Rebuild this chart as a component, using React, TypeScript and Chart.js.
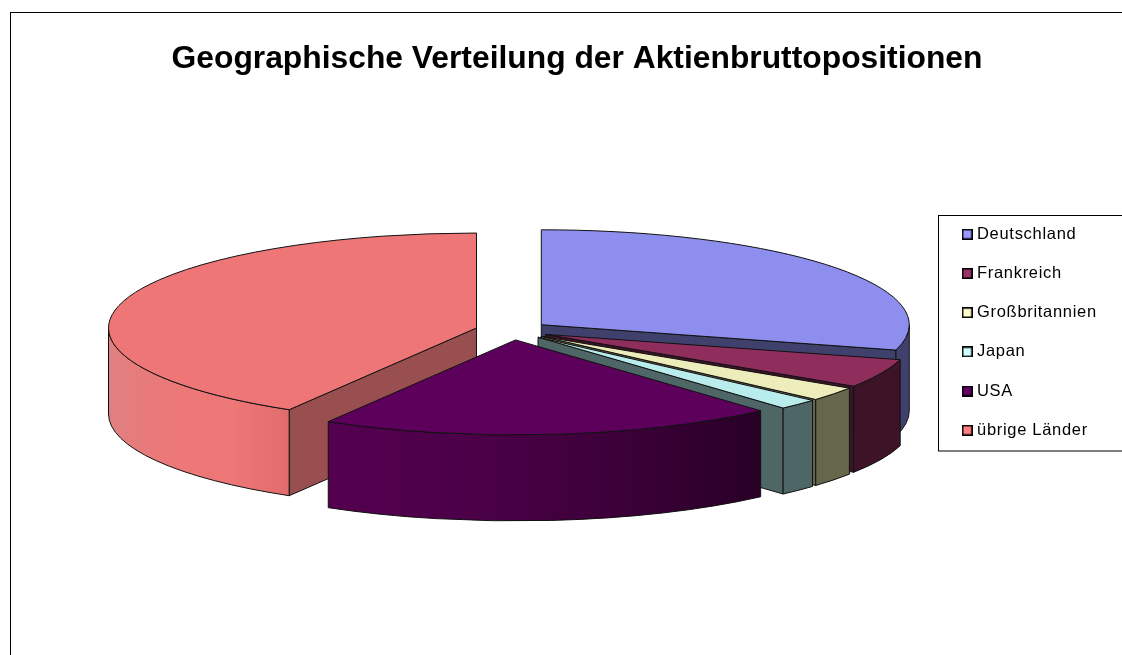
import React, { useEffect, useRef } from "react";
import { Chart, registerables } from "chart.js";

Chart.register(...registerables);

const TITLE = "Geographische Verteilung der Aktienbruttopositionen";
const categories = ["Deutschland", "Frankreich", "Großbritannien", "Japan", "USA", "übrige Länder"];
const shares = [29.3, 4.9, 2.4, 1.8, 20.1, 41.5];

const legendColors = ["#9999ff", "#993366", "#ffffcc", "#ccffff", "#660066", "#ff8080"];
const topColors = ["#8e8eee", "#8f2d5d", "#ecedba", "#b9eded", "#5c005c", "#ee7676"];
const faceColors = ["#40406c", "#3d1427", "#66664c", "#4f6666", "#2c002a", "#994f4f"];
const wallStops: string[][] = [
  ["#40406c", "#40406c"],
  ["#3d1427", "#3d1427"],
  ["#66664c", "#66664c"],
  ["#4f6666", "#4f6666"],
  ["#54004f", "#4b0048", "#3c0039", "#280026"],
  ["#e08080", "#ec7878", "#ee7777", "#e16c6c"],
];
const drawOrder = [5, 0, 1, 2, 3, 4];

const CANVAS_W = 1132;
const CANVAS_H = 642;
const TILT = 0.258;
const DEPTH = 86;
const EXPLODE = 36.8;

function legendSwatch(color: string) {
  const c = document.createElement("canvas");
  c.width = 11;
  c.height = 11;
  const g = c.getContext("2d")!;
  g.fillStyle = color;
  g.fillRect(1, 1, 9, 9);
  g.strokeStyle = "#000";
  g.lineWidth = 1.6;
  g.strokeRect(0.8, 0.8, 9.4, 9.4);
  return c;
}

const pie3d = {
  id: "pie3d",
  afterLayout(chart: any) {
    const title = chart.titleBlock;
    title.left = 0;
    title.right = CANVAS_W;
    const legend = chart.legend;
    legend.left = 932.05;
    legend.right = 1132;
    legend.top = 190.3;
    legend.bottom = 450;
    if (!legend.__spaced) {
      legend.__spaced = true;
      const orig = legend.draw;
      legend.draw = function (...a: any[]) {
        const ctx = chart.ctx;
        ctx.save();
        ctx.letterSpacing = "0.7px";
        orig.apply(this, a);
        ctx.restore();
      };
    }
  },
  beforeDatasetDraw(chart: any, args: any) {
    const ctx: CanvasRenderingContext2D = chart.ctx;
    const arcs = args.meta.data;
    ctx.save();
    ctx.lineJoin = "round";
    ctx.lineWidth = 1;
    ctx.strokeStyle = "#111";
    for (const i of drawOrder) {
      const p = arcs[i].getProps(["x", "y", "startAngle", "endAngle", "outerRadius"], true);
      const a0 = p.startAngle;
      const a1 = p.endAngle;
      const mid = (a0 + a1) / 2;
      const r = p.outerRadius;
      const ry = r * TILT;
      const ax = p.x + EXPLODE * Math.cos(mid);
      const ay = p.y + EXPLODE * Math.sin(mid) * TILT;
      const rim = (a: number) => [ax + r * Math.cos(a), ay + ry * Math.sin(a)];

      const face = (a: number) => {
        const [x, y] = rim(a);
        ctx.beginPath();
        ctx.moveTo(ax, ay);
        ctx.lineTo(x, y);
        ctx.lineTo(x, y + DEPTH);
        ctx.lineTo(ax, ay + DEPTH);
        ctx.closePath();
        ctx.fillStyle = faceColors[i];
        ctx.fill();
        ctx.stroke();
      };
      if (Math.cos(a0) < 0) face(a0);
      if (Math.cos(a1) > 0) face(a1);

      const s = Math.max(a0, 0);
      const e = Math.min(a1, Math.PI);
      if (e > s) {
        const [x0] = rim(s);
        const [x1] = rim(e);
        const g = ctx.createLinearGradient(Math.min(x0, x1), 0, Math.max(x0, x1), 0);
        const stops = wallStops[i];
        stops.forEach((c, k) => g.addColorStop(k / (stops.length - 1), c));
        ctx.beginPath();
        ctx.ellipse(ax, ay, r, ry, 0, s, e);
        ctx.ellipse(ax, ay + DEPTH, r, ry, 0, e, s, true);
        ctx.closePath();
        ctx.fillStyle = g;
        ctx.fill();
        ctx.stroke();
      }

      ctx.beginPath();
      ctx.moveTo(ax, ay);
      ctx.ellipse(ax, ay, r, ry, 0, a0, a1);
      ctx.closePath();
      ctx.fillStyle = topColors[i];
      ctx.fill();
      ctx.stroke();
    }
    ctx.restore();
    return false;
  },
  afterDraw(chart: any) {
    const ctx: CanvasRenderingContext2D = chart.ctx;
    ctx.save();
    ctx.strokeStyle = "#000";
    ctx.lineWidth = 1;
    ctx.strokeRect(927.5, 202.5, 260, 235.5);
    ctx.restore();
  },
};

export default function App() {
  const ref = useRef<HTMLCanvasElement>(null);
  useEffect(() => {
    const swatches = legendColors.map(legendSwatch);
    const chart = new Chart(ref.current!, {
      type: "pie",
      data: {
        labels: categories,
        datasets: [{ data: shares, backgroundColor: topColors, radius: 368, borderWidth: 0 } as any],
      },
      options: {
        responsive: false,
        animation: false,
        events: [],
        layout: { padding: { left: 0, right: 130, top: 0, bottom: 77.6 } },
        plugins: {
          tooltip: { enabled: false },
          title: {
            display: true,
            text: TITLE,
            color: "#000",
            font: { family: "Liberation Sans", size: 31.8, weight: "bold", lineHeight: 1.2 },
            padding: { top: 27.2, bottom: 5.2 },
          },
          legend: {
            position: "chartArea",
            align: "start",
            labels: {
              usePointStyle: true,
              boxWidth: 3,
              padding: 22.7,
              color: "#111",
              font: { family: "Liberation Sans", size: 16.5 },
              generateLabels: () =>
                categories.map((text, index) => ({
                  text,
                  index,
                  pointStyle: swatches[index],
                  fillStyle: legendColors[index],
                  strokeStyle: "#000",
                  lineWidth: 0,
                  hidden: false,
                })),
            },
          },
        },
      } as any,
      plugins: [pie3d as any],
    });
    return () => chart.destroy();
  }, []);

  return (
    <div style={{ position: "fixed", left: 0, top: 0, width: 1122, height: 655, overflow: "hidden", background: "#fff" }}>
      <div
        style={{
          position: "absolute",
          left: 10,
          top: 12,
          width: CANVAS_W + 1,
          height: CANVAS_H + 1,
          borderLeft: "1px solid #000",
          borderTop: "1px solid #000",
          boxSizing: "border-box",
        }}
      >
        <canvas ref={ref} width={CANVAS_W} height={CANVAS_H} style={{ display: "block", filter: "blur(0.35px)" }} />
      </div>
    </div>
  );
}
